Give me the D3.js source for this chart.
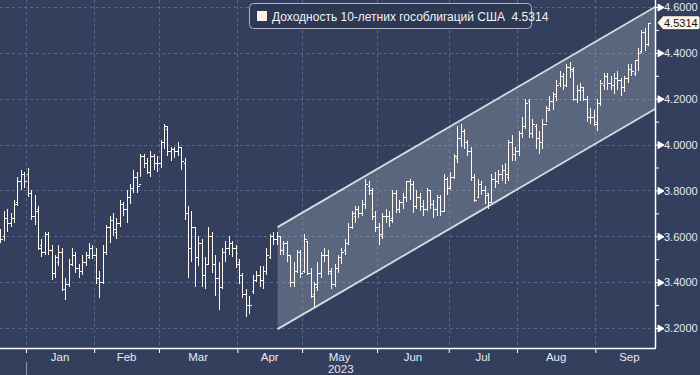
<!DOCTYPE html>
<html>
<head>
<meta charset="utf-8">
<script src="https://cdnjs.cloudflare.com/ajax/libs/d3/7.8.5/d3.min.js"></script>
<style>
  html, body { margin: 0; padding: 0; background: #333f5c; }
  svg { display: block; font-family: "Liberation Sans", Arial, sans-serif; }
</style>
</head>
<body>
<svg id="chart" width="700" height="375"></svg>
<script>
// ---- data ----
var seriesName = 'Доходность 10-летних гособлигаций США';
var lastValue = 4.5314;

// months on the axis, and trading days in each
var monthLabels = ['Jan', 'Feb', 'Mar', 'Apr', 'May', 'Jun', 'Jul', 'Aug', 'Sep'];
var monthDays = [20, 19, 23, 19, 22, 21, 20, 23, 20];
var yearLabel = '2023';
var leadBars = 8; // late December bars before January

var yMajor = [3.2, 3.4, 3.6, 3.8, 4.0, 4.2, 4.4, 4.6];
var yMinor = [3.3, 3.5, 3.7, 3.9, 4.1, 4.3, 4.5];

// daily OHLC, Dec 2022 .. Sep 2023
var open = [
  3.62,3.60,3.68,3.66,3.68,3.75,3.84,3.87,
  3.87,3.79,3.69,3.72,3.56,3.53,3.61,3.54,3.44,3.49,3.53,3.37,3.39,3.48,3.52,3.46,3.45,3.49,3.51,3.55,
  3.52,3.42,3.40,3.53,3.64,3.67,3.62,3.66,3.74,3.72,3.77,3.81,3.86,3.83,3.95,3.92,3.88,3.95,3.92,
  3.92,4.01,4.07,3.97,3.98,3.97,3.99,3.92,3.70,3.55,3.64,3.51,3.57,3.43,3.48,3.60,3.48,3.42,3.38,3.53,3.55,3.57,3.55,
  3.49,3.43,3.35,3.30,3.36,3.41,3.43,3.41,3.45,3.51,3.60,3.59,3.60,3.54,3.57,3.52,3.40,3.45,3.53,
  3.45,3.58,3.44,3.35,3.38,3.44,3.52,3.52,3.44,3.39,3.46,3.51,3.54,3.57,3.64,3.69,3.72,3.70,3.74,3.82,3.79,3.69,
  3.64,3.60,3.69,3.69,3.68,3.79,3.72,3.75,3.77,3.84,3.83,3.73,3.77,3.73,3.72,3.80,3.74,3.72,3.77,3.71,3.85,
  3.82,3.86,3.94,4.03,4.06,4.01,3.97,3.86,3.77,3.83,3.80,3.79,3.75,3.85,3.84,3.87,3.89,3.86,4.01,3.96,
  3.97,4.05,4.08,4.19,4.05,4.08,4.03,4.01,4.09,4.15,4.19,4.21,4.27,4.30,4.26,4.34,4.32,4.20,4.24,4.24,4.20,4.12,4.12,
  4.10,4.18,4.26,4.30,4.27,4.26,4.29,4.28,4.25,4.29,4.33,4.31,4.37,4.41,4.49,4.44
];
var high = [
  3.63,3.71,3.72,3.70,3.76,3.86,3.89,3.88,
  3.90,3.80,3.78,3.73,3.59,3.62,3.62,3.56,3.52,3.56,3.55,3.42,3.50,3.55,3.53,3.48,3.52,3.53,3.57,3.56,
  3.55,3.45,3.56,3.65,3.69,3.70,3.68,3.76,3.75,3.80,3.83,3.89,3.88,3.96,3.96,3.94,3.97,3.96,3.95,
  4.02,4.09,4.08,3.99,3.99,4.01,3.99,3.94,3.73,3.71,3.64,3.60,3.59,3.51,3.64,3.62,3.52,3.49,3.55,3.58,3.60,3.58,3.56,
  3.50,3.44,3.37,3.34,3.43,3.45,3.47,3.47,3.55,3.61,3.62,3.62,3.60,3.58,3.58,3.52,3.49,3.54,3.54,
  3.61,3.58,3.46,3.40,3.49,3.53,3.55,3.54,3.46,3.48,3.52,3.55,3.59,3.66,3.71,3.73,3.73,3.76,3.85,3.84,3.81,3.71,
  3.66,3.70,3.72,3.71,3.80,3.80,3.76,3.79,3.84,3.85,3.84,3.80,3.79,3.76,3.81,3.80,3.76,3.78,3.78,3.87,3.86,
  3.88,3.96,4.08,4.09,4.07,4.02,3.99,3.87,3.85,3.84,3.82,3.79,3.87,3.88,3.89,3.91,3.92,4.02,4.04,3.99,
  4.06,4.12,4.20,4.20,4.11,4.09,4.06,4.11,4.17,4.21,4.23,4.28,4.32,4.31,4.35,4.36,4.34,4.26,4.27,4.25,4.21,4.16,4.15,
  4.20,4.28,4.31,4.31,4.30,4.31,4.32,4.29,4.30,4.35,4.35,4.37,4.42,4.50,4.51,4.53
];
var low = [
  3.57,3.58,3.62,3.64,3.66,3.73,3.80,3.81,
  3.77,3.67,3.65,3.54,3.51,3.52,3.52,3.41,3.42,3.47,3.36,3.32,3.38,3.47,3.44,3.42,3.43,3.47,3.50,3.50,
  3.39,3.33,3.39,3.52,3.57,3.60,3.59,3.64,3.69,3.66,3.74,3.79,3.79,3.86,3.90,3.87,3.86,3.89,3.88,
  3.90,3.98,3.95,3.93,3.94,3.95,3.89,3.67,3.42,3.49,3.38,3.47,3.38,3.37,3.48,3.44,3.34,3.28,3.37,3.49,3.52,3.51,3.46,
  3.39,3.33,3.25,3.26,3.35,3.40,3.38,3.37,3.43,3.50,3.56,3.56,3.52,3.52,3.49,3.38,3.38,3.44,3.42,
  3.44,3.43,3.33,3.29,3.36,3.42,3.49,3.43,3.37,3.38,3.44,3.48,3.52,3.56,3.63,3.66,3.68,3.69,3.72,3.78,3.67,3.62,
  3.56,3.59,3.66,3.64,3.66,3.70,3.70,3.72,3.75,3.76,3.70,3.72,3.71,3.69,3.71,3.72,3.68,3.69,3.69,3.71,3.78,
  3.80,3.85,3.92,3.99,3.98,3.95,3.84,3.75,3.77,3.78,3.74,3.72,3.75,3.81,3.83,3.84,3.83,3.84,3.93,3.93,
  3.95,4.03,4.07,4.03,4.03,3.98,3.96,3.98,4.10,4.15,4.15,4.19,4.25,4.24,4.25,4.29,4.19,4.18,4.19,4.19,4.10,4.09,4.08,
  4.06,4.17,4.24,4.24,4.24,4.22,4.24,4.21,4.23,4.27,4.30,4.30,4.32,4.40,4.41,4.43
];
var close = [
  3.59,3.68,3.66,3.68,3.74,3.84,3.87,3.84,
  3.79,3.69,3.71,3.55,3.53,3.61,3.54,3.44,3.51,3.53,3.37,3.39,3.48,3.52,3.46,3.45,3.49,3.52,3.55,3.52,
  3.42,3.40,3.53,3.64,3.67,3.63,3.66,3.74,3.72,3.77,3.81,3.86,3.82,3.95,3.92,3.88,3.95,3.92,3.92,
  4.01,4.08,3.97,3.98,3.97,3.99,3.93,3.70,3.55,3.64,3.51,3.57,3.43,3.48,3.60,3.48,3.42,3.38,3.53,3.55,3.57,3.55,3.48,
  3.43,3.35,3.30,3.30,3.41,3.43,3.41,3.45,3.52,3.60,3.59,3.60,3.54,3.57,3.52,3.40,3.45,3.53,3.44,
  3.59,3.44,3.34,3.39,3.44,3.52,3.52,3.45,3.39,3.46,3.51,3.53,3.57,3.64,3.70,3.72,3.70,3.74,3.83,3.80,3.69,3.64,
  3.61,3.69,3.69,3.67,3.79,3.72,3.75,3.77,3.84,3.83,3.73,3.77,3.73,3.72,3.80,3.74,3.72,3.77,3.71,3.85,3.81,
  3.86,3.95,4.03,4.06,4.01,3.97,3.86,3.76,3.83,3.80,3.78,3.75,3.85,3.84,3.87,3.89,3.87,4.01,3.96,3.97,
  4.05,4.08,4.18,4.05,4.09,4.03,4.01,4.09,4.16,4.19,4.22,4.26,4.30,4.26,4.34,4.33,4.20,4.24,4.25,4.20,4.12,4.12,4.09,
  4.18,4.27,4.30,4.27,4.26,4.29,4.28,4.25,4.29,4.33,4.32,4.37,4.40,4.49,4.44,4.53
];

// trend channel: bar index where it starts / ends, and its edges
var channelIdx = [81.3, 192];
var channelUpper = [3.64, 4.60];
var channelLower = [3.195, 4.155];

// ---- layout ----
var W = 700, H = 375;
var plotR = 655, plotB = 348;
var svg = d3.select('#chart');

svg.append('rect').attr('width', W).attr('height', H).attr('fill', '#333f5c');

var x = d3.scaleLinear().domain([-0.12, 192]).range([0, plotR]);
var y = d3.scaleLinear().domain([3.2, 4.6]).range([328, 7]);

// month boundaries (in bar index units)
var bounds = [];
var acc = leadBars - 0.5;
bounds.push(acc);
monthDays.forEach(function(n){ acc += n; bounds.push(acc); });

// grid
var grid = svg.append('g').attr('stroke', '#56688c').attr('stroke-dasharray', '3,3')
  .attr('shape-rendering', 'crispEdges');
yMajor.forEach(function(v){
  grid.append('line').attr('x1', 0).attr('x2', plotR)
    .attr('y1', Math.round(y(v)) + 0.5).attr('y2', Math.round(y(v)) + 0.5);
});
bounds.slice(0, -1).forEach(function(b){
  grid.append('line').attr('y1', 0).attr('y2', plotB)
    .attr('x1', Math.round(x(b)) + 0.5).attr('x2', Math.round(x(b)) + 0.5);
});

// channel
var chan = [
  [x(channelIdx[0]), y(channelUpper[0])],
  [x(channelIdx[1]), y(channelUpper[1])],
  [x(channelIdx[1]), y(channelLower[1])],
  [x(channelIdx[0]), y(channelLower[0])]
];
svg.append('path').attr('d', d3.line()(chan) + 'Z')
  .attr('fill', '#a9b2c6').attr('fill-opacity', 0.33);
[channelUpper, channelLower].forEach(function(vals){
  svg.append('line')
    .attr('x1', x(channelIdx[0])).attr('y1', y(vals[0]))
    .attr('x2', x(channelIdx[1])).attr('y2', y(vals[1]))
    .attr('stroke', '#d9dbe0').attr('stroke-width', 1.8);
});

// OHLC bars
var bars = svg.append('g').attr('stroke', '#fff9f0').attr('stroke-width', 1)
  .attr('shape-rendering', 'crispEdges').attr('fill', 'none');
close.forEach(function(c, i){
  var cx = Math.round(x(i)) + 0.5;
  var d = 'M' + cx + ',' + y(high[i]) + 'V' + y(low[i]) +
          'M' + (cx - 2) + ',' + Math.round(y(open[i])) + 'H' + cx +
          'M' + cx + ',' + Math.round(y(c)) + 'H' + (cx + 2);
  bars.append('path').attr('d', d);
});

// frame
svg.append('line').attr('x1', plotR + 0.5).attr('x2', plotR + 0.5).attr('y1', 0).attr('y2', plotB)
  .attr('stroke', '#ffffff').attr('stroke-width', 1.5);
svg.append('line').attr('x1', 0).attr('x2', plotR + 1).attr('y1', plotB + 0.5).attr('y2', plotB + 0.5)
  .attr('stroke', '#ffffff').attr('stroke-width', 1.5);

// right axis
var yAxis = d3.axisRight(y).tickValues(yMajor).tickSize(0).tickPadding(9)
  .tickFormat(d3.format('.4f'));
var ya = svg.append('g').attr('transform', 'translate(' + plotR + ',0)').call(yAxis);
ya.select('.domain').remove();
ya.selectAll('text').attr('fill', '#e6e9f2').attr('font-size', 11).attr('dy', '0.34em');
ya.selectAll('.tick').append('path').attr('d', 'M0,0H3M3,-3.5L9,0L3,3.5Z')
  .attr('fill', '#ffffff').attr('stroke', '#ffffff').attr('stroke-width', 1);
var yMinAxis = d3.axisRight(y).tickValues(yMinor).tickSize(4).tickFormat('');
var ym = svg.append('g').attr('transform', 'translate(' + plotR + ',0)').call(yMinAxis);
ym.select('.domain').remove();
ym.selectAll('line').attr('stroke', '#ffffff');

// last value flag
var ly = y(lastValue);
var flag = svg.append('g');
flag.append('path')
  .attr('d', 'M' + 657 + ',' + ly + 'L663,' + (ly - 7) + 'H698Q700,' + (ly - 7) + ' 700,' + (ly - 5) +
        'V' + (ly + 5) + 'Q700,' + (ly + 7) + ' 698,' + (ly + 7) + 'H663Z')
  .attr('fill', '#fdf4ea').attr('stroke', '#202020').attr('stroke-width', 0.8);
flag.append('text').attr('x', 664).attr('y', ly).attr('dy', '0.36em')
  .attr('font-size', 11).attr('fill', '#111').text(d3.format('.4f')(lastValue));

// bottom axis
var xAxis = d3.axisBottom(x).tickValues(bounds.slice(0, -1)).tickSize(5).tickFormat('');
var xa = svg.append('g').attr('transform', 'translate(0,' + plotB + ')').call(xAxis);
xa.select('.domain').remove();
xa.selectAll('line').attr('stroke', '#ffffff');
monthLabels.forEach(function(m, k){
  svg.append('text').attr('x', x((bounds[k] + bounds[k + 1]) / 2)).attr('y', 361)
    .attr('text-anchor', 'middle').attr('font-size', 11.5).attr('fill', '#e6e9f2').text(m);
});
svg.append('text').attr('x', x((bounds[0] + bounds[bounds.length - 1]) / 2) - 4).attr('y', 373)
  .attr('text-anchor', 'middle').attr('font-size', 11.5).attr('fill', '#e6e9f2').text(yearLabel);
svg.append('line').attr('x1', Math.round(x(bounds[0])) + 0.5).attr('x2', Math.round(x(bounds[0])) + 0.5)
  .attr('y1', 362).attr('y2', H).attr('stroke', '#8d96ab');

// legend
var lg = svg.append('g');
lg.append('rect').attr('x', 249.5).attr('y', 3.5).attr('width', 282).attr('height', 25).attr('rx', 4)
  .attr('fill', '#2d3853').attr('stroke', '#aeb4c2');
lg.append('rect').attr('x', 257).attr('y', 11).attr('width', 10).attr('height', 10).attr('fill', '#fdeee8');
lg.append('text').attr('x', 272).attr('y', 20.5).attr('font-size', 12).attr('fill', '#f2f4f8')
  .attr('xml:space', 'preserve')
  .text(seriesName + '  ' + d3.format('.4f')(lastValue));
</script>
</body>
</html>
